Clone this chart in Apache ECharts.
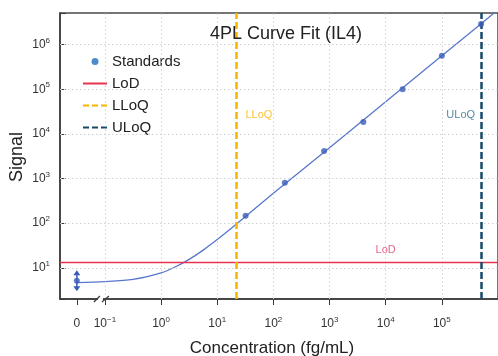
<!DOCTYPE html>
<html><head><meta charset="utf-8">
<script src="https://cdn.jsdelivr.net/npm/echarts@6/dist/echarts.min.js"></script>
<style>html,body{margin:0;padding:0;background:#fff}#c{width:498px;height:356px}</style>
</head><body><div id="c"></div>
<script>
// ---- data ----
const stdConc   = [0, 32, 160, 800, 4000, 20000, 100000, 500000];
const stdSignal = [5.1, 146, 800, 4140, 18500, 100000, 560000, 2900000];
const zeroErr   = [3.4, 7.7];              // low / high replicate signal at 0 fg/mL
const curveConc   = [0, 0.1, 0.316, 1, 1.78, 3.16, 5.62, 10, 17.8, 31.6, 100, 1000, 10000, 100000, 1000000];
const curveSignal = [4.65, 4.89, 5.5, 7.7, 10.4, 15.4, 24.9, 42.8, 76.5, 140, 470, 4890, 52400, 561000, 6000000];
const LOD = 13, LLOQ = 22, ULOQ = 500000;
const xTickExps = [-1, 0, 1, 2, 3, 4, 5];
const yTickValues = [10, 100, 1000, 10000, 100000, 1000000];

// broken log x-axis: 0 is placed half a decade left of 10^-1
const ZERO_POS = -1.5;
const tx = v => v === 0 ? ZERO_POS : Math.log10(v);

const FONT = 'Liberation Sans, Arial, sans-serif';
const PT = '#3a5cb8', CURVE = '#5877cc', RED = '#e63350', ORANGE = '#f7b500', TEAL = '#174a6b';

const chart = echarts.init(document.getElementById('c'));
const richLab = {
  b: {fontSize: 12, lineHeight: 16, color: '#333', fontFamily: FONT},
  s: {fontSize: 8, lineHeight: 7, verticalAlign: 'top', color: '#333', fontFamily: FONT}
};
const xCustom = [ZERO_POS].concat(xTickExps);

chart.setOption({
  animation: false,
  textStyle: {fontFamily: FONT},
  title: {text: '4PL Curve Fit (IL4)', left: 205, top: 20,
    textStyle: {fontSize: 18, fontWeight: 'normal', color: '#222', fontFamily: FONT}},
  grid: {left: 60, right: -4, top: 13, bottom: 57, show: true, borderColor: '#4a4a4a', borderWidth: 1.5},
  legend: {
    left: 77, top: 49, orient: 'vertical', itemWidth: 24, itemHeight: 7, itemGap: 7,
    selectedMode: false,
    textStyle: {fontSize: 15, color: '#222', fontFamily: FONT},
    data: [
      {name: 'Standards', icon: 'circle', itemStyle: {color: '#1f6fbf'}},
      {name: 'LoD', itemStyle: {color: 'rgba(0,0,0,0)', borderWidth: 0}},
      {name: 'LLoQ', itemStyle: {color: 'rgba(0,0,0,0)', borderWidth: 0}},
      {name: 'ULoQ', itemStyle: {color: 'rgba(0,0,0,0)', borderWidth: 0}}
    ]
  },
  xAxis: {
    type: 'value', min: -1.8, max: 6.0,
    axisLine: {show: true, onZero: false, lineStyle: {color: '#3a3a3a', width: 1.5}},
    axisTick: {show: true, customValues: xCustom, length: 6, lineStyle: {color: '#3a3a3a'}},
    axisLabel: {customValues: xCustom, margin: 17, rich: richLab,
      formatter: v => Math.abs(v - ZERO_POS) < 1e-9 ? '{b|0}' : '{b|10}{s|' + String(Math.round(v)).replace('-', '−') + '}'},
    splitLine: {show: false}
  },
  yAxis: {
    type: 'log', logBase: 10, min: 2, max: 5.1e6,
    axisLine: {show: true, onZero: false, lineStyle: {color: '#3a3a3a', width: 1.5}},
    axisTick: {show: true, inside: true, length: 6, lineStyle: {color: '#3a3a3a'}},
    axisLabel: {margin: 10, rich: richLab,
      formatter: v => {
        const e = Math.log10(v);
        if (Math.abs(e - Math.round(e)) > 1e-6) return '';
        return '{b|10}{s|' + Math.round(e) + '}';
      }},
    splitLine: {show: false}
  },
  series: [
    { // dotted grid
      type: 'line', data: [], silent: true, z: 1,
      markLine: {silent: true, symbol: ['none', 'none'], label: {show: false},
        lineStyle: {color: '#d0d0d0', width: 1, type: [1.5, 2.5]},
        data: xTickExps.map(e => ({xAxis: e})).concat(yTickValues.map(v => ({yAxis: v})))}
    },
    {
      name: 'LoD', type: 'line', data: [], symbol: 'none', z: 3,
      itemStyle: {color: RED}, lineStyle: {color: RED, width: 1.5},
      markLine: {silent: true, symbol: ['none', 'none'], label: {show: false},
        lineStyle: {color: RED, width: 1.3, type: 'solid'}, data: [{yAxis: LOD}]}
    },
    {
      name: 'LLoQ', type: 'line', data: [], symbol: 'none', z: 3,
      itemStyle: {color: ORANGE}, lineStyle: {color: ORANGE, width: 2, type: [6, 3]},
      markLine: {silent: true, symbol: ['none', 'none'], label: {show: false},
        lineStyle: {color: ORANGE, width: 2.5, type: [7, 3]}, data: [{xAxis: tx(LLOQ)}]}
    },
    {
      name: 'ULoQ', type: 'line', data: [], symbol: 'none', z: 3,
      itemStyle: {color: TEAL}, lineStyle: {color: TEAL, width: 2, type: [6, 3]},
      markLine: {silent: true, symbol: ['none', 'none'], label: {show: false},
        lineStyle: {color: TEAL, width: 2.5, type: [7, 3]}, data: [{xAxis: tx(ULOQ)}]}
    },
    { // fitted 4PL curve
      type: 'line', smooth: 0.3, symbol: 'none', z: 4,
      lineStyle: {color: CURVE, width: 1.3},
      data: curveConc.map((c, i) => [tx(c), curveSignal[i]])
    },
    {
      name: 'Standards', type: 'scatter', symbolSize: 6, z: 5,
      itemStyle: {color: PT},
      data: stdConc.map((c, i) => [tx(c), stdSignal[i]])
    },
    { // replicate range at 0 fg/mL
      type: 'custom', z: 5, silent: true,
      data: [[tx(0), zeroErr[0], zeroErr[1]]],
      encode: {x: 0, y: [1, 2]},
      renderItem: (params, api) => {
        const x = api.value(0);
        const lo = api.coord([x, api.value(1)]);
        const hi = api.coord([x, api.value(2)]);
        const w = 3.5;
        return {type: 'group', children: [
          {type: 'line', shape: {x1: lo[0], y1: lo[1], x2: hi[0], y2: hi[1]}, style: {stroke: PT, lineWidth: 1.5}},
          {type: 'polygon', shape: {points: [[hi[0] - w, hi[1] + 2.5], [hi[0] + w, hi[1] + 2.5], [hi[0], hi[1] - 2.5]]}, style: {fill: PT}},
          {type: 'polygon', shape: {points: [[lo[0] - w, lo[1] - 2.5], [lo[0] + w, lo[1] - 2.5], [lo[0], lo[1] + 2.5]]}, style: {fill: PT}}
        ]};
      }
    },
    { // text annotations for the limit lines
      type: 'scatter', symbolSize: 0, silent: true, z: 6,
      data: [
        {value: [tx(LLOQ), 26000], label: {show: true, formatter: 'LLoQ', position: 'right', distance: 9, color: ORANGE, fontSize: 11}},
        {value: [tx(ULOQ), 26000], label: {show: true, formatter: 'ULoQ', position: 'left', distance: 6, color: '#2e6e8a', fontSize: 11}},
        {value: [tx(10000), LOD], label: {show: true, formatter: 'LoD', position: 'top', distance: 7, color: '#e0406a', fontSize: 11}}
      ]
    }
  ]
});

// axis break marks and axis names
const bp = chart.convertToPixel({xAxisIndex: 0, yAxisIndex: 0}, [-1, 2]);
const bx = bp[0], by = bp[1];
chart.setOption({
  graphic: [
    {type: 'rect', shape: {x: bx - 7, y: by - 2, width: 5, height: 4}, style: {fill: '#fff'}, z: 100},
    {type: 'line', shape: {x1: bx - 11, y1: by + 3, x2: bx - 5, y2: by - 3}, style: {stroke: '#3a3a3a', lineWidth: 1.2}, z: 101},
    {type: 'line', shape: {x1: bx - 3, y1: by + 3, x2: bx + 4, y2: by - 3}, style: {stroke: '#3a3a3a', lineWidth: 1.2}, z: 101},
    {type: 'text', x: 272, y: 348, z: 101, style: {text: 'Concentration (fg/mL)', fontSize: 17, fontFamily: FONT, fill: '#222', textAlign: 'center', textVerticalAlign: 'middle'}},
    {type: 'text', x: 17, y: 157, rotation: Math.PI / 2, z: 101, style: {text: 'Signal', fontSize: 18, fontFamily: FONT, fill: '#222', textAlign: 'center', textVerticalAlign: 'middle'}}
  ]
});
</script></body></html>
